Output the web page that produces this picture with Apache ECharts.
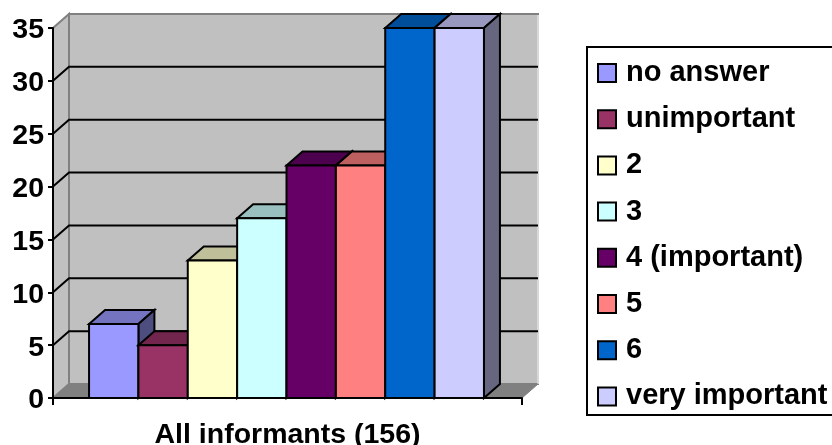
<!DOCTYPE html>
<html>
<head>
<meta charset="utf-8">
<style>
    html, body { margin: 0; padding: 0; background: #fff; }
    #cn { width: 832px; height: 445px; }
</style>
<script src="https://cdn.jsdelivr.net/npm/echarts@6/dist/echarts.min.js"></script>
</head>
<body>
<div id="cn"></div>
<script>
'use strict';
const categories = ['All informants (156)'];
const seriesNames = ['no answer', 'unimportant', '2', '3', '4 (important)', '5', '6', 'very important'];
const seriesValues = [7, 5, 13, 17, 22, 22, 35, 35];
const seriesColors = ['#9999FF', '#993366', '#FFFFCC', '#CCFFFF', '#660066', '#FF8080', '#0066CC', '#CCCCFF'];
const topColors = ['#7373BF', '#73264D', '#BFBF99', '#99BFBF', '#4D004D', '#BF6060', '#004D99', '#9999BF'];
const sideColors = ['#4D4D80', '#4D1A33', '#808066', '#668080', '#330033', '#804040', '#003366', '#666680'];
const yTicks = [5, 10, 15, 20, 25, 30];

const DEPTH_X = 16; // 3d depth of the box
const DEPTH_Y = -14;
const BAR_SHARE = 0.842;
const BAR_SHIFT = -1;
const LINE = 2;
const FONT = '"Liberation Sans", Arial, sans-serif';

const poly = (points, fill, stroke, width) => ({
    type: 'polygon',
    shape: { points: points },
    style: { fill: fill, stroke: stroke, lineWidth: width, lineJoin: 'miter' }
});
const back = p => [p[0] + DEPTH_X, p[1] + DEPTH_Y];

// walls and floor
const renderWalls = (params, api) => {
    const c = api.coord([0, 0]);
    const w = api.size([1, 0])[0];
    const a = [c[0] - w / 2, c[1]];
    const b = [c[0] + w / 2, c[1]];
    const t = [a[0], api.coord([0, api.value(1)])[1]];
    const r = [b[0], t[1]];
    return {
        type: 'group',
        children: [
            poly([a, t, back(t), back(a)], '#C0C0C0', '#808080', LINE),
            poly([back(a), back(t), back(r), back(b)], '#C0C0C0', '#808080', LINE),
            { type: 'line', shape: { x1: back(r)[0], y1: back(r)[1] + 1, x2: back(b)[0], y2: back(b)[1] }, style: { stroke: '#D8D8D8', lineWidth: LINE } },
            poly([a, back(a), back(b), b], '#808080', '#808080', 1)
        ]
    };
};

// gridline on side wall + back wall
const renderGrid = (params, api) => {
    const w = api.size([1, 0])[0];
    const c = api.coord([0, api.value(1)]);
    const a = [c[0] - w / 2, c[1]];
    const b = [c[0] + w / 2, c[1]];
    return {
        type: 'polyline',
        shape: { points: [a, back(a), back(b)] },
        style: { fill: 'none', stroke: '#000', lineWidth: LINE }
    };
};

const renderBar = i => (params, api) => {
    const c = api.coord([0, 0]);
    const w = api.size([1, 0])[0];
    const bw = w * BAR_SHARE / seriesValues.length;
    const x0 = c[0] - w * BAR_SHARE / 2 + bw * i + BAR_SHIFT;
    const x1 = x0 + bw;
    const top = api.coord([0, api.value(1)])[1];
    const fl = [x0, top];
    const fr = [x1, top];
    const br = [x1, c[1]];
    const bl = [x0, c[1]];
    return {
        type: 'group',
        children: [
            poly([fl, back(fl), back(fr), fr], topColors[i], '#000', LINE),
            poly([fr, back(fr), back(br), br], sideColors[i], '#000', LINE),
            poly([fl, fr, br, bl], seriesColors[i], '#000', LINE)
        ]
    };
};

const chart = echarts.init(document.getElementById('cn'), null, { renderer: 'canvas' });

const series = [
    { type: 'custom', name: 'walls', clip: false, z: 1, silent: true, renderItem: renderWalls, data: [[0, 35]] },
    { type: 'custom', name: 'grid', clip: false, z: 1, silent: true, renderItem: renderGrid, data: yTicks.map(v => [0, v]) }
];
seriesNames.forEach((name, i) => {
    series.push({
        type: 'custom',
        name: name,
        clip: false,
        z: 2,
        renderItem: renderBar(i),
        itemStyle: { color: seriesColors[i] },
        data: [[0, seriesValues[i]]]
    });
});

chart.setOption({
    animation: false,
    backgroundColor: '#fff',
    textStyle: { fontFamily: FONT },
    grid: { left: 53, right: 310, top: 28, bottom: 47, outerBoundsMode: 'none' },
    xAxis: {
        type: 'category',
        data: categories,
        z: 5,
        axisLine: { lineStyle: { color: '#000', width: LINE } },
        axisTick: { show: true, length: 7, lineStyle: { color: '#000', width: LINE } },
        axisLabel: { color: '#000', fontWeight: 'bold', fontSize: 28.5, fontFamily: FONT, margin: 23 }
    },
    yAxis: {
        type: 'value',
        min: 0,
        max: 35,
        interval: 5,
        z: 5,
        splitLine: { show: false },
        axisLine: { show: true, lineStyle: { color: '#000', width: LINE } },
        axisTick: { show: true, length: 5, lineStyle: { color: '#000', width: LINE } },
        axisLabel: {
            color: '#000',
            margin: 9,
            formatter: '{n|{value}}',
            rich: { n: { color: '#000', fontWeight: 'bold', fontSize: 28.5, fontFamily: FONT, padding: [5, 0, 0, 0] } }
        }
    },
    legend: {
        orient: 'vertical',
        left: 587,
        top: 47,
        padding: [11.5, 40, 4, 10],
        borderColor: '#000',
        borderWidth: 2,
        itemWidth: 18,
        itemHeight: 18,
        itemGap: 17.2,
        textStyle: { color: '#000', fontWeight: 'bold', fontSize: 29, fontFamily: FONT, padding: [0, 0, 0, 5] },
        data: seriesNames.map((name, i) => ({
            name: name,
            icon: 'rect',
            itemStyle: { color: seriesColors[i], borderColor: '#000', borderWidth: LINE }
        }))
    },
    series: series
});
</script>
</body>
</html>
